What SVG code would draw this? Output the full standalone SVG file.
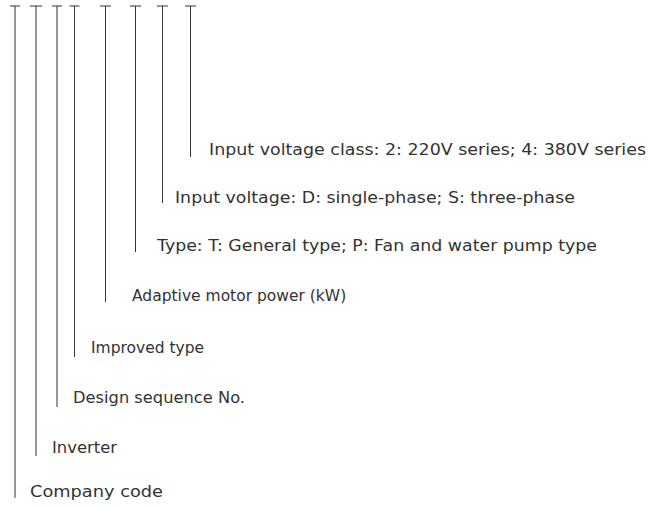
<svg xmlns="http://www.w3.org/2000/svg" width="649" height="509" viewBox="0 0 649 509">
<style>
.ln{stroke:#333;stroke-width:1;fill:none}
.t{font-family:"DejaVu Sans","Liberation Sans",sans-serif;font-size:15.5px;fill:#333}
</style>
<rect width="649" height="509" fill="#fff"/>
<g id="connectors">
<path class="ln" d="M10,6H20M15,6V498"/>
<path class="ln" d="M30,6H42M36,6V456"/>
<path class="ln" d="M52,6H62M57,6V407"/>
<path class="ln" d="M69.5,6H79.5M74.5,6V357"/>
<path class="ln" d="M100,6H111M105.5,6V302"/>
<path class="ln" d="M130,6H141M135.5,6V252"/>
<path class="ln" d="M157,6H168M162.5,6V203"/>
<path class="ln" d="M185,6H196M190.5,6V157"/>
</g>
<g id="n1"><text class="t" x="209" y="155" textLength="437" lengthAdjust="spacingAndGlyphs">Input voltage class: 2: 220V series; 4: 380V series</text></g>
<g id="n2"><text class="t" x="175" y="203" textLength="400" lengthAdjust="spacingAndGlyphs">Input voltage: D: single-phase; S: three-phase</text></g>
<g id="n3"><text class="t" x="157" y="251" textLength="440" lengthAdjust="spacingAndGlyphs">Type: T: General type; P: Fan and water pump type</text></g>
<g id="n4"><text class="t" x="132" y="301">Adaptive motor power (kW)</text></g>
<g id="n5"><text class="t" x="91" y="353">Improved type</text></g>
<g id="n6"><text class="t" x="73" y="403" textLength="172" lengthAdjust="spacingAndGlyphs">Design sequence No.</text></g>
<g id="n7"><text class="t" x="52" y="453" textLength="65" lengthAdjust="spacingAndGlyphs">Inverter</text></g>
<g id="n8"><text class="t" x="30" y="497" textLength="133" lengthAdjust="spacingAndGlyphs">Company code</text></g>
</svg>
